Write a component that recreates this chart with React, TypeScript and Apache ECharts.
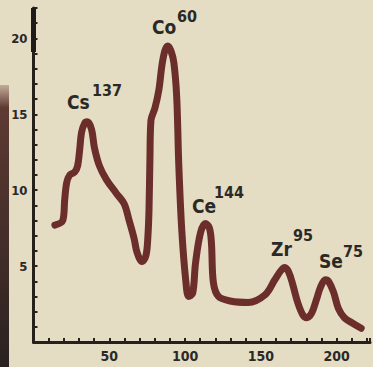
import React, { useEffect, useRef } from "react";
import * as echarts from "echarts";

const energy = [
  14.1, 19.3, 20.6, 21.9, 23.9, 27.2, 29.1, 30.4, 31.7, 33.7, 35.6, 38.3, 40.2, 43.5, 48.1, 54.6,
  59.8, 63.1, 66.4, 68.3, 71.6, 74.2, 75.5, 76.2, 76.8, 77.5, 80.1, 82.7, 84.7, 86.7, 88.6, 90.6,
  92.6, 94.5, 95.8, 97.8, 100.4, 102.4, 105.0, 106.9, 110.2, 113.5, 116.1, 117.4, 118.7, 122.0,
  129.8, 141.6, 152.7, 159.2, 163.2, 165.8, 168.4, 171.0, 174.3, 177.6, 180.2, 183.5, 186.7,
  189.3, 192.6, 194.6, 197.9, 201.2, 205.1, 210.3, 216.2,
];
const counts = [
  7.7, 8.0, 9.4, 10.5, 11.0, 11.2, 11.6, 12.6, 13.8, 14.4, 14.5, 14.0, 12.8, 11.6, 10.7, 9.8,
  9.1, 8.0, 6.8, 5.9, 5.3, 5.7, 7.0, 8.7, 12.0, 14.6, 15.4, 16.6, 18.2, 19.2, 19.5, 19.2,
  18.4, 16.1, 11.8, 7.4, 4.1, 3.0, 3.2, 5.2, 7.2, 7.8, 7.5, 6.5, 3.9, 3.0,
  2.7, 2.6, 3.1, 4.1, 4.7, 4.9, 4.6, 3.8, 2.6, 1.8, 1.6, 1.9, 2.8,
  3.6, 4.1, 4.0, 3.3, 2.2, 1.6, 1.25, 0.9,
];
const xLabels = [50, 100, 150, 200];
const yLabels = [5, 10, 15, 20];
const isotopes = ["Cs", "Co", "Ce", "Zr", "Se"];
const massNumbers = ["137", "60", "144", "95", "75"];

export default function App() {
  const ref = useRef<HTMLDivElement>(null);
  useEffect(() => {
    document.body.style.margin = "0";
    const chart = echarts.init(ref.current!, null, { renderer: "svg" });
    const labelFont = "'DejaVu Sans Condensed', 'DejaVu Sans', sans-serif";
    const ink = "#2b2926";
    const mainPos = [
      [67, 102],
      [152, 27],
      [192, 206],
      [271, 249],
      [319, 261],
    ];
    const supPos = [
      [92, 90],
      [177, 16],
      [214, 192],
      [293, 235],
      [343, 251],
    ];
    const texts: any[] = [];
    isotopes.forEach((name, i) => {
      texts.push({
        type: "text",
        x: mainPos[i][0],
        y: mainPos[i][1],
        style: {
          text: name,
          font: `bold 19px ${labelFont}`,
          fill: ink,
          verticalAlign: "middle",
        },
      });
      texts.push({
        type: "text",
        x: supPos[i][0],
        y: supPos[i][1],
        style: {
          text: massNumbers[i],
          font: `bold 16px ${labelFont}`,
          fill: ink,
          verticalAlign: "middle",
        },
      });
    });
    chart.setOption({
      animation: false,
      backgroundColor: "#e4dcc3",
      grid: { left: 33.5, right: 0, top: 8, bottom: 25 },
      xAxis: {
        type: "value",
        min: 0,
        max: 222,
        interval: 10,
        splitLine: { show: false },
        axisLine: { show: true, lineStyle: { color: "#27211d", width: 3 } },
        axisTick: { show: true, inside: true, length: 4, lineStyle: { color: "#27211d", width: 2 } },
        axisLabel: {
          margin: 7,
          fontFamily: labelFont,
          fontWeight: "bold",
          fontSize: 14,
          color: ink,
          formatter: (v: number) => (xLabels.includes(v) ? String(v) : ""),
        },
      },
      yAxis: {
        type: "value",
        min: 0,
        max: 22,
        interval: 1,
        splitLine: { show: false },
        axisLine: { show: true, lineStyle: { color: "#27211d", width: 3 } },
        axisTick: { show: true, inside: true, length: 4, lineStyle: { color: "#27211d", width: 2 } },
        axisLabel: {
          margin: 6,
          fontFamily: labelFont,
          fontWeight: "bold",
          fontSize: 13,
          color: ink,
          formatter: (v: number) => (yLabels.includes(v) ? String(v) : ""),
        },
      },
      series: [
        {
          type: "line",
          data: energy.map((e, i) => [e, counts[i]]),
          symbol: "none",
          smooth: 0.35,
          lineStyle: { color: "#6b2e2b", width: 7, cap: "round", join: "round" },
          z: 3,
        },
      ],
    });
    const top = chart.convertToPixel({ gridIndex: 0 }, [0, 22]) as number[];
    const brk = chart.convertToPixel({ gridIndex: 0 }, [0, 19.1]) as number[];
    chart.setOption({
      graphic: [
        {
          type: "rect",
          shape: { x: 0, y: 85, width: 9, height: 282 },
          style: {
            fill: new echarts.graphic.LinearGradient(0, 0, 0, 1, [
              { offset: 0, color: "rgba(110,62,55,0.3)" },
              { offset: 0.08, color: "#5e3a33" },
              { offset: 1, color: "#2a2220" },
            ]),
          },
          z: 1,
        },
        {
          type: "rect",
          shape: { x: top[0] - 2.5, y: top[1], width: 5, height: brk[1] - top[1] },
          style: { fill: "#1f1b18" },
          z: 5,
        },
        ...texts,
      ],
    });
    return () => chart.dispose();
  }, []);
  return (
    <div
      ref={ref}
      style={{ position: "fixed", left: 0, top: 0, width: 373, height: 367 }}
    />
  );
}
